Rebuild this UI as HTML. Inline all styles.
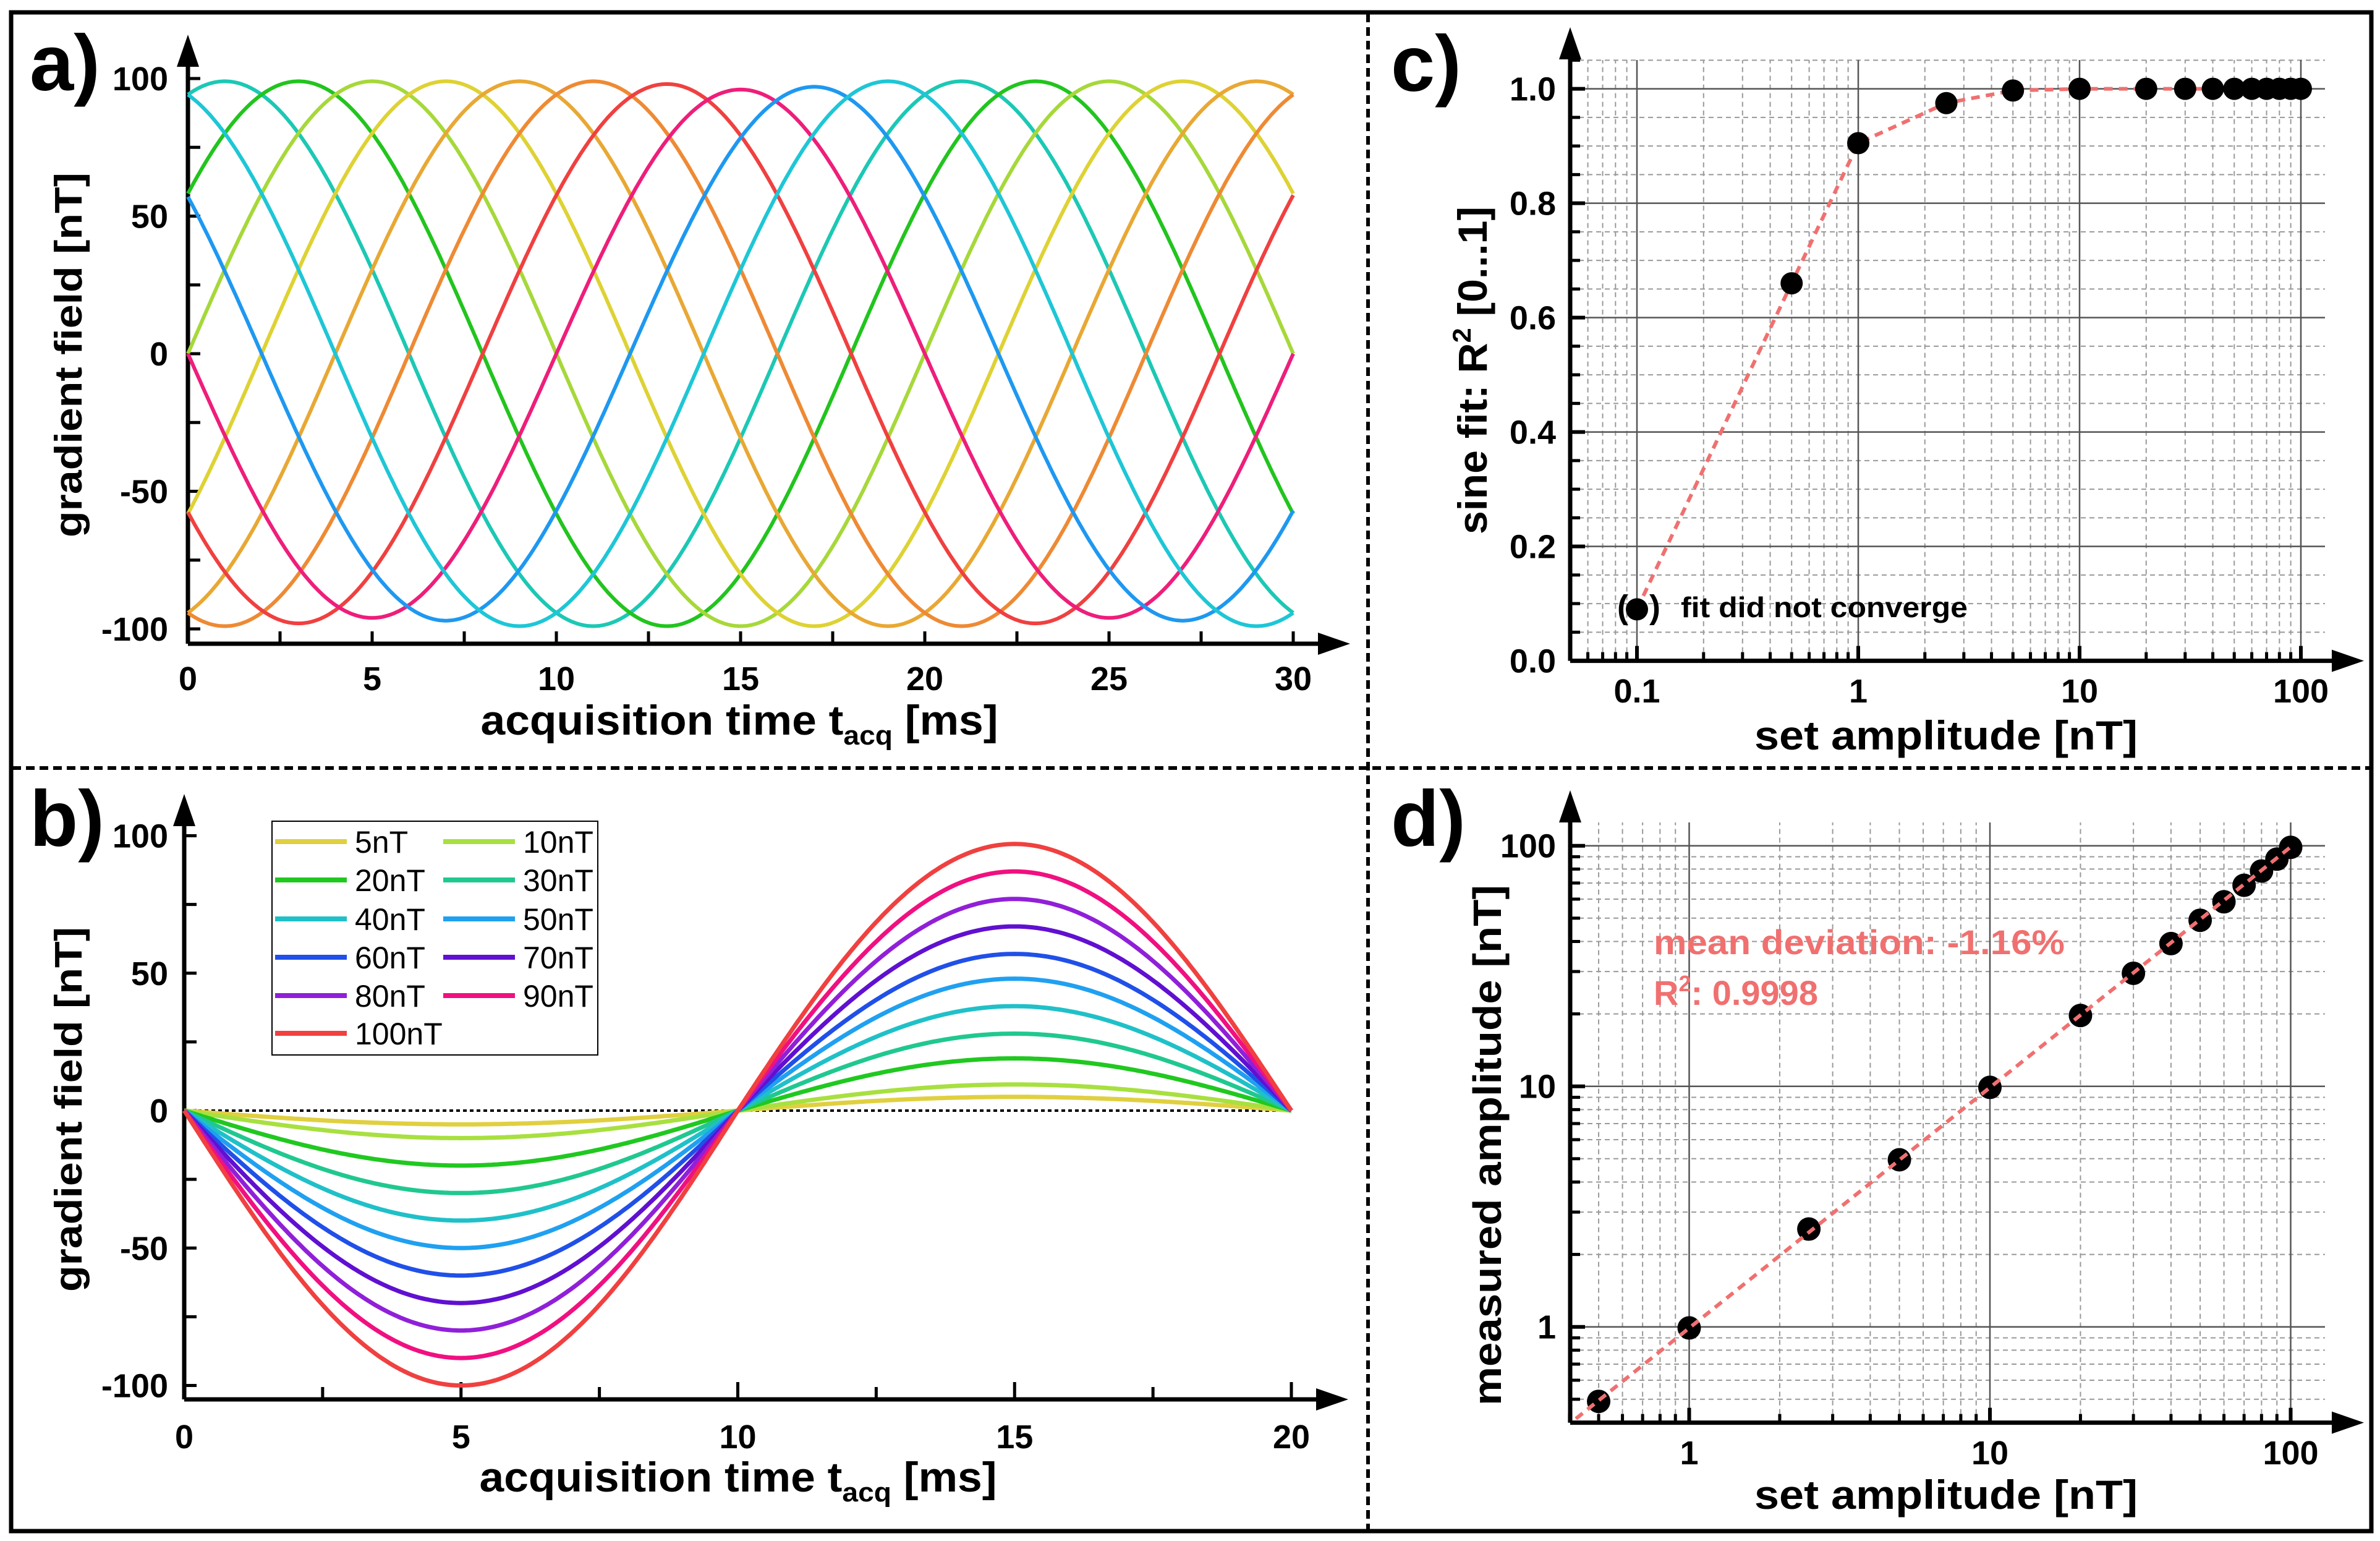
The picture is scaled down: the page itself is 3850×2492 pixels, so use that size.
<!DOCTYPE html>
<html><head><meta charset="utf-8"><style>
html,body{margin:0;padding:0;background:#fff;}
svg{display:block;font-family:"Liberation Sans",sans-serif;}
text{font-weight:bold;}
</style></head><body>
<svg id="fig" xmlns="http://www.w3.org/2000/svg" width="3850" height="2492" viewBox="0 0 3850 2492">
<rect x="0" y="0" width="3850" height="2492" fill="#fff"/>
<rect x="18" y="20" width="3818" height="2456" fill="none" stroke="#000" stroke-width="7"/>
<line x1="2213" y1="22" x2="2213" y2="2474" stroke="#000" stroke-width="6" stroke-dasharray="14 8"/>
<line x1="20" y1="1242" x2="3834" y2="1242" stroke="#000" stroke-width="6" stroke-dasharray="14 8"/>
<g id="pa"></g>
<g id="pb"></g>
<g id="pc"></g>
<g id="pd"></g>
</svg>
<script>
// ---------- Panel a data ----------
const aPeakTimes = [1, 3, 5, 7, 9, 11, 13, 15, 17, 19];
const aAmplitudes = [99, 99, 99, 99, 99, 99, 98, 96, 97, 99];
const aPeriod = [20];
const aColors = ["#1cc8b4","#22c41e","#a6d83a","#ded234","#e8a834","#ee8a34","#f04040","#ee1e7a","#1e98f0","#1ec6d6"];
const aXTicks = [0, 5, 10, 15, 20, 25, 30];
const aYTicks = [-100, -50, 0, 50, 100];
// ---------- Panel b data ----------
const bLabels = ["5nT","10nT","20nT","30nT","40nT","50nT","60nT","70nT","80nT","90nT","100nT"];
const bNegPeaks = [5, 10, 20, 30, 40, 50, 60, 70, 80, 90, 100];
const bPosPeaks = [5, 9.5, 19, 28, 38, 48, 57, 67, 77, 87, 97];
const bColors = ["#e0d040","#a8e040","#20c820","#20c890","#20c0c8","#20a0f0","#2050e8","#6010d0","#9020d8","#f01080","#f04040"];
const bXTicks = [0, 5, 10, 15, 20];
const bYTicks = [-100, -50, 0, 50, 100];
// ---------- Panel c data ----------
const cSetAmp = [0.1, 0.5, 1, 2.5, 5, 10, 20, 30, 40, 50, 60, 70, 80, 90, 100];
const cR2 = [0.09, 0.66, 0.905, 0.975, 0.997, 1.0, 1.0, 1.0, 1.0, 1.0, 1.0, 1.0, 1.0, 1.0, 1.0];
const cXTicks = [0.1, 1, 10, 100];
const cXTickLabels = ["0.1", "1", "10", "100"];
const cYTicks = [0, 0.2, 0.4, 0.6, 0.8, 1.0];
const cYTickLabels = ["0.0", "0.2", "0.4", "0.6", "0.8", "1.0"];
// ---------- Panel d data ----------
const dSetAmp = [0.5, 1, 2.5, 5, 10, 20, 30, 40, 50, 60, 70, 80, 90, 100];
const dMeasured = [0.49, 0.99, 2.55, 4.95, 9.9, 19.7, 29.5, 39.2, 49, 58.5, 68.5, 78.5, 88, 98.5];
const dFitSlope = [0.9884];
const dFitRange = [0.42, 100];
const dXTicks = [1, 10, 100];
const dXTickLabels = ["1", "10", "100"];
const dYTicks = [1, 10, 100];
const dYTickLabels = ["1", "10", "100"];

const NS = "http://www.w3.org/2000/svg";
function mk(tag, attrs, parent) {
  const e = document.createElementNS(NS, tag);
  for (const k in attrs) e.setAttribute(k, attrs[k]);
  parent.appendChild(e);
  return e;
}
function txt(s, attrs, parent) { const t = mk("text", attrs, parent); t.textContent = s; return t; }
function arrowUp(x, y, p) { return mk("polygon", {points: `${x-18},${y+52} ${x},${y} ${x+18},${y+52}`, fill:"#000"}, p); }
function arrowRight(x, y, p) { return mk("polygon", {points: `${x-52},${y-18} ${x},${y} ${x-52},${y+18}`, fill:"#000"}, p); }

// ================= PANEL A =================
(function(){
  const g = document.getElementById("pa");
  const x0 = 304, x1 = 2092, yz = 572, ys = 4.45, yAxis = 1041;
  const ax = t => x0 + t * (x1 - x0) / 30;
  const ay = v => yz - v * ys;
  let l = mk("line", {x1:x0, y1:yAxis, x2:x0, y2:90, stroke:"#000", "stroke-width":7}, g);
  
  
  arrowUp(x0, 56, g);
  l = mk("line", {x1:x0, y1:yAxis, x2:2150, y2:yAxis, stroke:"#000", "stroke-width":7}, g);
  
  
  arrowRight(2184, yAxis, g);
  for (let v = -100; v <= 100; v += 25) mk("line", {x1:x0, y1:ay(v), x2:x0+20, y2:ay(v), stroke:"#000", "stroke-width":5}, g);
  for (let t = 0; t <= 30; t += 2.5) mk("line", {x1:ax(t), y1:yAxis, x2:ax(t), y2:yAxis-20, stroke:"#000", "stroke-width":5}, g);
  aYTicks.forEach(v => {
    const t = txt(String(v), {x:272, y:ay(v)+19, "text-anchor":"end", "font-size":54}, g);
    
    
  });
  aXTicks.forEach(v => {
    const t = txt(String(v), {x:ax(v), y:1116, "text-anchor":"middle", "font-size":54}, g);
    
    
  });
  aPeakTimes.forEach((p, i) => {
    let d = "";
    for (let k = 0; k <= 600; k++) {
      const t = 30 * k / 600;
      const v = aAmplitudes[i] * Math.cos(2 * Math.PI * (t - p) / aPeriod[0]);
      d += (k ? "L" : "M") + ax(t).toFixed(1) + "," + ay(v).toFixed(1);
    }
    const path = mk("path", {d, fill:"none", stroke:aColors[i], "stroke-width":6}, g);
    
    
  });
  let t = txt("a)", {x:48, y:146, "font-size":128}, g);
  
  
  t = mk("text", {x:1196, y:1188, "text-anchor":"middle", "font-size":68, textLength:837, lengthAdjust:"spacingAndGlyphs"}, g);
  t.innerHTML = 'acquisition time t<tspan font-size="44" dy="16">acq</tspan><tspan dy="-16"> [ms]</tspan>';
  
  
  t = txt("gradient field [nT]", {x:0, y:0, "text-anchor":"middle", "font-size":62, textLength:590, lengthAdjust:"spacingAndGlyphs", transform:"translate(132,574) rotate(-90)"}, g);
  
  
})();

// ================= PANEL B =================
(function(){
  const g = document.getElementById("pb");
  const x0 = 298, x1 = 2089, yz = 1796, ys = 4.445, yAxis = 2263;
  const bx = t => x0 + t * (x1 - x0) / 20;
  const by = v => yz - v * ys;
  let l = mk("line", {x1:x0, y1:yAxis, x2:x0, y2:1320, stroke:"#000", "stroke-width":7}, g);
  
  
  arrowUp(x0, 1284, g);
  l = mk("line", {x1:x0, y1:yAxis, x2:2150, y2:yAxis, stroke:"#000", "stroke-width":7}, g);
  
  
  arrowRight(2181, yAxis, g);
  for (let v = -100; v <= 100; v += 25) mk("line", {x1:x0, y1:by(v), x2:x0+20, y2:by(v), stroke:"#000", "stroke-width":5}, g);
  for (let t = 0; t <= 20; t += 2.5) mk("line", {x1:bx(t), y1:yAxis, x2:bx(t), y2:yAxis-(t%5===0?28:20), stroke:"#000", "stroke-width":5}, g);
  bYTicks.forEach(v => {
    const t = txt(String(v), {x:272, y:by(v)+19, "text-anchor":"end", "font-size":54}, g);
    
    
  });
  bXTicks.forEach(v => {
    const t = txt(String(v), {x:bx(v), y:2342, "text-anchor":"middle", "font-size":54}, g);
    
    
  });
  l = mk("line", {x1:x0, y1:by(0), x2:x1, y2:by(0), stroke:"#000", "stroke-width":4, "stroke-dasharray":"6 5"}, g);
  
  
  bNegPeaks.forEach((a, i) => {
    let d = "";
    for (let k = 0; k <= 400; k++) {
      const t = 20 * k / 400;
      const s = Math.sin(2 * Math.PI * t / 20);
      const v = s > 0 ? -a * s : -bPosPeaks[i] * s;
      d += (k ? "L" : "M") + bx(t).toFixed(1) + "," + by(v).toFixed(1);
    }
    const path = mk("path", {d, fill:"none", stroke:bColors[i], "stroke-width":7}, g);
    
    
  });
  const lg = mk("g", {}, g);
  
  
  mk("rect", {x:440, y:1328, width:527, height:378, fill:"#fff", stroke:"#000", "stroke-width":2}, lg);
  const rowsY = [1361, 1423, 1486, 1548, 1610, 1671];
  bLabels.forEach((lab, i) => {
    const r = Math.floor(i / 2), c = i % 2;
    const lx = c ? 717 : 445;
    const y = rowsY[r];
    const e = mk("g", {}, lg);
    
    
    mk("line", {x1:lx, y1:y, x2:lx+116, y2:y, stroke:bColors[i], "stroke-width":8}, e);
    const t = txt(lab, {x:lx+129, y:y+18, "font-size":50}, e);
    t.style.fontWeight = "normal";
  });
  let t = txt("b)", {x:48, y:1368, "font-size":128}, g);
  
  
  t = mk("text", {x:1194, y:2412, "text-anchor":"middle", "font-size":68, textLength:837, lengthAdjust:"spacingAndGlyphs"}, g);
  t.innerHTML = 'acquisition time t<tspan font-size="44" dy="16">acq</tspan><tspan dy="-16"> [ms]</tspan>';
  
  
  t = txt("gradient field [nT]", {x:0, y:0, "text-anchor":"middle", "font-size":62, textLength:590, lengthAdjust:"spacingAndGlyphs", transform:"translate(132,1794) rotate(-90)"}, g);
  
  
})();

// ================= PANEL C =================
(function(){
  const g = document.getElementById("pc");
  const xa = 2540, yAxis = 1068.6, right = 3761, top = 97;
  const cx = v => 3006 + Math.log10(v) * 358;
  const cy = r => 1068.6 - r * 925;
  for (let r = 0.05; r <= 1.051; r += 0.05) {
    const major = Math.abs(r / 0.2 - Math.round(r / 0.2)) < 1e-6;
    if (major) continue;
    mk("line", {x1:xa, y1:cy(r), x2:right, y2:cy(r), stroke:"#999", "stroke-width":2, "stroke-dasharray":"8 6"}, g);
    mk("line", {x1:xa, y1:cy(r), x2:xa+16, y2:cy(r), stroke:"#000", "stroke-width":5}, g);
  }
  [0.01, 0.1, 1, 10].forEach(dec => {
    for (let m = 2; m <= 9; m++) {
      const v = dec * m;
      if (v < 0.05 || v > 100) continue;
      mk("line", {x1:cx(v), y1:yAxis, x2:cx(v), y2:top, stroke:"#999", "stroke-width":2, "stroke-dasharray":"8 6"}, g);
      mk("line", {x1:cx(v), y1:yAxis, x2:cx(v), y2:yAxis-14, stroke:"#000", "stroke-width":5}, g);
    }
  });
  cYTicks.forEach(r => { if (r > 0) mk("line", {x1:xa, y1:cy(r), x2:right, y2:cy(r), stroke:"#555", "stroke-width":2.5}, g); });
  cXTicks.forEach(v => {
    mk("line", {x1:cx(v), y1:yAxis, x2:cx(v), y2:top, stroke:"#555", "stroke-width":2.5}, g);
    mk("line", {x1:cx(v), y1:yAxis, x2:cx(v), y2:yAxis-24, stroke:"#000", "stroke-width":6}, g);
  });
  let l = mk("line", {x1:xa, y1:yAxis, x2:xa, y2:80, stroke:"#000", "stroke-width":7}, g);
  
  
  arrowUp(xa, 44, g);
  l = mk("line", {x1:xa, y1:yAxis, x2:3790, y2:yAxis, stroke:"#000", "stroke-width":7}, g);
  
  
  arrowRight(3824, yAxis, g);
  cYTicks.forEach((r, i) => {
    mk("line", {x1:xa, y1:cy(r), x2:xa+24, y2:cy(r), stroke:"#000", "stroke-width":6}, g);
    const t = txt(cYTickLabels[i], {x:2517, y:cy(r)+19, "text-anchor":"end", "font-size":54}, g);
    
    
  });
  cXTicks.forEach((v, i) => {
    const t = txt(cXTickLabels[i], {x:cx(v), y:1136, "text-anchor":"middle", "font-size":54}, g);
    
    
  });
  const pts = cSetAmp.map((v, i) => cx(v).toFixed(1) + "," + cy(cR2[i]).toFixed(1)).join(" ");
  l = mk("polyline", {points:pts, fill:"none", stroke:"#f07070", "stroke-width":6, "stroke-dasharray":"14 10"}, g);
  
  
  cSetAmp.forEach((v, i) => {
    const c = mk("circle", {cx:cx(v), cy:cy(cR2[i]), r:18, fill:"#000"}, g);
    
    
  });
  let t = txt("(", {x:2616, y:1000, "font-size":54}, g);
  t = txt(")", {x:2668, y:1000, "font-size":54}, g);
  t = txt("fit did not converge", {x:2719, y:998, "font-size":46, textLength:464, lengthAdjust:"spacingAndGlyphs"}, g);
  
  
  t = txt("c)", {x:2250, y:147, "font-size":128}, g);
  
  
  t = txt("set amplitude [nT]", {x:3148, y:1212, "text-anchor":"middle", "font-size":66, textLength:620, lengthAdjust:"spacingAndGlyphs"}, g);
  
  
  t = mk("text", {x:0, y:0, "text-anchor":"middle", "font-size":66, textLength:530, lengthAdjust:"spacingAndGlyphs", transform:"translate(2405,599) rotate(-90)"}, g);
  t.innerHTML = 'sine fit:  R<tspan font-size="42" dy="-26">2</tspan><tspan dy="26"> [0...1]</tspan>';
  
  
})();

// ================= PANEL D =================
(function(){
  const g = document.getElementById("pd");
  const xa = 2540, yAxis = 2300.6, right = 3761, top = 1330;
  const dx = v => 3219 + Math.log10(v / 10) * 486.5;
  const dy = v => 1756.7 - Math.log10(v / 10) * 389;
  [0.1, 1, 10].forEach(dec => {
    for (let m = 2; m <= 9; m++) {
      const v = dec * m;
      if (v < 0.4 || v > 100) continue;
      mk("line", {x1:dx(v), y1:yAxis, x2:dx(v), y2:top, stroke:"#999", "stroke-width":2, "stroke-dasharray":"8 6"}, g);
      mk("line", {x1:dx(v), y1:yAxis, x2:dx(v), y2:yAxis-14, stroke:"#000", "stroke-width":5}, g);
      mk("line", {x1:xa, y1:dy(v), x2:right, y2:dy(v), stroke:"#999", "stroke-width":2, "stroke-dasharray":"8 6"}, g);
      mk("line", {x1:xa, y1:dy(v), x2:xa+16, y2:dy(v), stroke:"#000", "stroke-width":5}, g);
    }
  });
  dXTicks.forEach((v, i) => {
    mk("line", {x1:dx(v), y1:yAxis, x2:dx(v), y2:top, stroke:"#555", "stroke-width":2.5}, g);
    mk("line", {x1:dx(v), y1:yAxis, x2:dx(v), y2:yAxis-24, stroke:"#000", "stroke-width":6}, g);
    const t = txt(dXTickLabels[i], {x:dx(v), y:2368, "text-anchor":"middle", "font-size":54}, g);
    
    
  });
  dYTicks.forEach((v, i) => {
    mk("line", {x1:xa, y1:dy(v), x2:right, y2:dy(v), stroke:"#555", "stroke-width":2.5}, g);
    mk("line", {x1:xa, y1:dy(v), x2:xa+24, y2:dy(v), stroke:"#000", "stroke-width":6}, g);
    const t = txt(dYTickLabels[i], {x:2517, y:dy(v)+19, "text-anchor":"end", "font-size":54}, g);
    
    
  });
  let l = mk("line", {x1:xa, y1:yAxis, x2:xa, y2:1312, stroke:"#000", "stroke-width":7}, g);
  
  
  arrowUp(xa, 1278, g);
  l = mk("line", {x1:xa, y1:yAxis, x2:3790, y2:yAxis, stroke:"#000", "stroke-width":7}, g);
  
  
  arrowRight(3824, yAxis, g);
  dSetAmp.forEach((v, i) => {
    const c = mk("circle", {cx:dx(v), cy:dy(dMeasured[i]), r:19, fill:"#000"}, g);
    
    
  });
  l = mk("line", {x1:dx(dFitRange[0]), y1:dy(dFitRange[0]*dFitSlope[0]), x2:dx(dFitRange[1]), y2:dy(dFitRange[1]*dFitSlope[0]), stroke:"#f07070", "stroke-width":6, "stroke-dasharray":"14 10"}, g);
  
  
  let t = txt("mean deviation: -1.16%", {x:2675, y:1543, "font-size":56, fill:"#f07070", textLength:665, lengthAdjust:"spacingAndGlyphs"}, g);
  
  
  t = mk("text", {x:2675, y:1625, "font-size":56, fill:"#f07070"}, g);
  t.innerHTML = 'R<tspan font-size="36" dy="-22">2</tspan><tspan dy="22">: 0.9998</tspan>';
  
  
  t = txt("d)", {x:2250, y:1368, "font-size":128}, g);
  
  
  t = txt("set amplitude [nT]", {x:3148, y:2440, "text-anchor":"middle", "font-size":66, textLength:620, lengthAdjust:"spacingAndGlyphs"}, g);
  
  
  t = txt("measured amplitude [nT]", {x:0, y:0, "text-anchor":"middle", "font-size":64, textLength:842, lengthAdjust:"spacingAndGlyphs", transform:"translate(2428,1852) rotate(-90)"}, g);
  
  
})();
</script>
</body></html>
